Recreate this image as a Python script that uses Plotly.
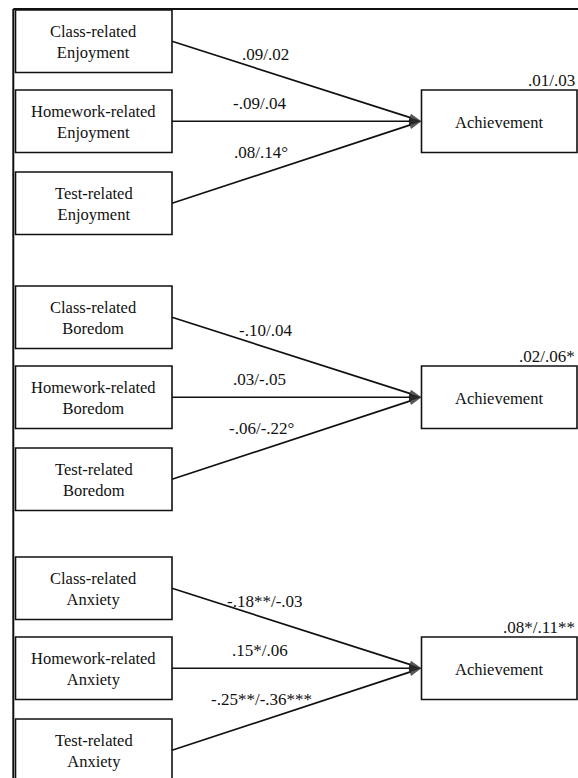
import plotly.graph_objects as go

W, H = 578, 778

# Emotion domains, one path block each (top to bottom)
emotions = ["Enjoyment", "Boredom", "Anxiety"]
# Learning settings: predictor boxes within each block (top to bottom)
settings = ["Class-related", "Homework-related", "Test-related"]
outcome = "Achievement"

# Path coefficients per block, in setting order
enjoyment_paths = [".09/.02", "-.09/.04", ".08/.14°"]
boredom_paths = ["-.10/.04", ".03/-.05", "-.06/-.22°"]
anxiety_paths = ["-.18**/-.03", ".15*/.06", "-.25**/-.36***"]
paths = [enjoyment_paths, boredom_paths, anxiety_paths]

# Explained variance of achievement per block
r_squared = [".01/.03", ".02/.06*", ".08*/.11**"]

# ---- diagram geometry (pixels, y grows downward) ----
block_top = [10, 286, 557]
row_offset = [0, 80, 162]
box_h = 62.5
pred_x0, pred_x1 = 15.5, 172
out_x0, out_x1 = 421.5, 577
out_row = 1
label_x = [265, 259.5, 261]
label_dy = [44, 93.5, 142.5]
r2_dy = 70.5

INK = "#111111"
SERIF = "'Times New Roman', 'Liberation Serif', 'DejaVu Serif', serif"

fig = go.Figure()
shapes = []
annotations = []

# outer frame (left and top edges)
shapes.append(dict(type="line", x0=13.3, x1=13.3, y0=9, y1=H + 5,
                   xref="x", yref="y", line=dict(color=INK, width=2)))
shapes.append(dict(type="line", x0=13.3, x1=W + 5, y0=9, y1=9,
                   xref="x", yref="y", line=dict(color=INK, width=2)))

for b, emo in enumerate(emotions):
    top = block_top[b]
    oy0 = top + row_offset[out_row]
    oy1 = oy0 + box_h
    ocy = (oy0 + oy1) / 2

    # outcome box
    shapes.append(dict(type="rect", x0=out_x0, x1=out_x1, y0=oy0, y1=oy1,
                       xref="x", yref="y", line=dict(color=INK, width=1.6),
                       fillcolor="white", layer="above"))
    annotations.append(dict(x=(out_x0 + out_x1) / 2, y=ocy + 1, text=outcome,
                            showarrow=False, xref="x", yref="y",
                            font=dict(family=SERIF, size=16.5, color=INK)))
    annotations.append(dict(x=576.5, y=top + r2_dy, text=r_squared[b],
                            showarrow=False, xref="x", yref="y", xanchor="right",
                            font=dict(family=SERIF, size=17, color=INK)))

    for r, setting in enumerate(settings):
        y0 = top + row_offset[r]
        y1 = y0 + box_h
        cy = (y0 + y1) / 2
        shapes.append(dict(type="rect", x0=pred_x0, x1=pred_x1, y0=y0, y1=y1,
                           xref="x", yref="y", line=dict(color=INK, width=1.6),
                           fillcolor="white", layer="above"))
        annotations.append(dict(x=(pred_x0 + pred_x1) / 2, y=cy + 1,
                                text=f"{setting}<br>{emo}", showarrow=False,
                                xref="x", yref="y",
                                font=dict(family=SERIF, size=16.5, color=INK)))

        # path arrow from predictor to outcome
        fig.add_trace(go.Scatter(
            x=[pred_x1, out_x0], y=[cy, ocy], mode="lines+markers",
            line=dict(color=INK, width=1.7),
            marker=dict(symbol="arrow", angleref="previous", size=[0, 13],
                        color=INK, line=dict(width=0)),
            hoverinfo="skip", showlegend=False))

        annotations.append(dict(x=label_x[r], y=top + label_dy[r],
                                text=paths[b][r], showarrow=False,
                                xref="x", yref="y",
                                font=dict(family=SERIF, size=17, color=INK)))

fig.update_layout(
    width=W, height=H,
    margin=dict(l=0, r=0, t=0, b=0),
    paper_bgcolor="white", plot_bgcolor="white",
    font=dict(family=SERIF, color=INK),
    xaxis=dict(range=[0, W], visible=False, fixedrange=True),
    yaxis=dict(range=[H, 0], visible=False, fixedrange=True),
    shapes=shapes, annotations=annotations, showlegend=False,
)

fig.write_html("out.html")
